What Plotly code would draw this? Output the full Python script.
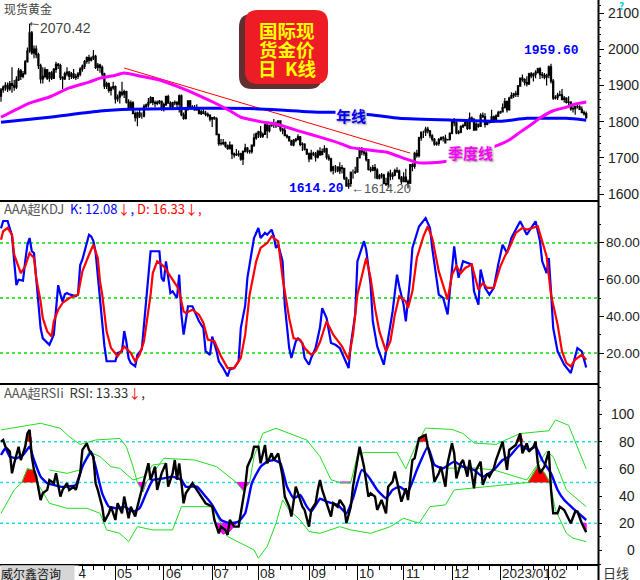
import pandas as pd
import plotly.graph_objects as go

# ---------------- price data (daily OHLC) ----------------
opens = [1870,1888,1895,1900,1890,1905,1900,1895,1915,1940,1925,1932,1965,1995,2045,1990,2000,1985,1955,1918,1925,1943,1920,1935,1920,1944,1958,1955,1922,1918,1932,
         1937,1925,1932,1922,1925,1931,1945,1953,1966,1977,1970,1975,1980,1950,1956,1950,1932,1898,1905,1886,1893,
         1897,1863,1868,1881,1876,1883,1854,1838,1852,1822,1811,1824,1815,1815,1842,1846,1853,1866,1853,1850,1853,1856,
         1837,1847,1869,1851,1841,1852,1853,1848,1871,1819,1809,1834,1857,1840,1839,1832,1838,1822,1827,1823,1820,1817,
         1807,1811,1808,1764,1739,1740,1742,1733,1725,1735,1711,1708,1709,1711,1696,1718,1727,1719,1717,1735,1755,
         1766,1772,1760,1765,1791,1775,1789,1794,1792,1789,1802,1779,1775,1761,1758,1747,1736,1748,1751,1758,1737,1738,1723,
         1711,1697,1712,1710,1702,1718,1709,1717,1725,1702,1697,1665,1675,1675,1664,1673,1671,1644,1622,1629,1660,1660,
         1661,1700,1725,1716,1713,1695,1668,1666,1673,1666,1644,1650,1652,1629,1627,1657,1649,1652,1665,1663,1644,
         1634,1647,1635,1630,1681,1676,1712,1706,1755,1771,1771,1779,1774,1761,1751,1738,1740,1750,1755,1754,1741,1750,
         1768,1803,1797,1769,1771,1786,1789,1797,1781,1810,1807,1777,1793,1787,1817,1813,1792,1797,1798,1813,1804,1815,
         1824,1827,1839,1855,1833,1865,1872,1877,1875,1898,1920,1916,1908,1904,1932,1926,1931,1936,1946,1930,1928,1923,
         1928,1951,1912,1865,1867,1873,1874,1861,1865,1853,1854,1835,1836,1842,1841,1834,1825,1822]
highs = [1893,1900,1909,1908,1912,1950,1915,1925,1948,1945,1940,1970,2005,2070.42,2050,2010,2010,1990,1960,1950,1950,1945,1938,1940,1948,1965,1962,1960,1925,1938,1950,
         1940,1937,1945,1932,1937,1950,1958,1970,1980,1985,1980,1998,1985,1962,1960,1955,1935,1910,1908,1898,1910,
         1900,1875,1885,1910,1888,1885,1862,1858,1856,1828,1828,1835,1825,1848,1850,1865,1870,1868,1858,1858,1860,1858,
         1853,1872,1874,1856,1855,1858,1856,1875,1875,1825,1840,1858,1860,1845,1846,1848,1840,1832,1840,1830,1825,1820,
         1813,1815,1812,1767,1752,1752,1745,1737,1745,1737,1715,1724,1720,1714,1720,1739,1730,1722,1737,1767,1770,
         1775,1788,1770,1795,1792,1790,1798,1807,1800,1803,1804,1782,1782,1765,1760,1750,1752,1755,1765,1760,1743,1740,1726,
         1715,1722,1717,1716,1722,1729,1726,1735,1728,1710,1700,1678,1680,1677,1688,1680,1672,1648,1641,1662,1668,1675,
         1702,1729,1730,1722,1718,1697,1675,1680,1683,1671,1655,1658,1656,1645,1663,1667,1660,1670,1674,1668,1650,
         1660,1670,1640,1682,1685,1717,1722,1758,1773,1775,1786,1786,1777,1765,1755,1745,1755,1759,1760,1764,1752,1770,
         1805,1810,1800,1776,1790,1794,1806,1800,1825,1814,1809,1798,1795,1823,1825,1823,1803,1800,1833,1817,1820,1830,
         1830,1850,1865,1858,1869,1881,1880,1885,1901,1922,1930,1920,1925,1935,1937,1935,1942,1949,1950,1937,1934,1932,
         1955,1959.6,1918,1873,1880,1885,1890,1871,1867,1870,1856,1845,1843,1847,1845,1842,1831,1828]
lows = [1855,1880,1885,1882,1885,1880,1885,1890,1912,1915,1920,1930,1965,1990,1985,1975,1975,1945,1905,1905,1920,1915,1910,1915,1918,1935,1945,1915,1890,1915,1925,
        1915,1918,1918,1915,1918,1925,1938,1945,1960,1960,1966,1970,1945,1940,1935,1925,1890,1890,1880,1872,1888,
        1850,1855,1850,1870,1865,1850,1832,1835,1820,1800,1787,1810,1808,1812,1835,1840,1850,1845,1840,1845,1848,1830,
        1828,1843,1850,1835,1838,1845,1840,1825,1815,1805,1806,1830,1835,1833,1830,1830,1820,1818,1820,1815,1812,1800,
        1785,1805,1763,1733,1734,1735,1728,1722,1723,1697,1700,1705,1703,1692,1680,1715,1712,1711,1712,1730,1750,
        1755,1755,1755,1763,1754,1770,1786,1782,1782,1785,1772,1765,1760,1753,1745,1733,1732,1743,1748,1732,1719,1720,1708,
        1688,1695,1705,1690,1698,1705,1707,1714,1695,1692,1660,1654,1659,1660,1655,1657,1639,1621,1614.2,1620,1642,1655,
        1659,1698,1707,1706,1690,1665,1660,1663,1642,1641,1640,1643,1627,1622,1617,1638,1640,1649,1658,1640,1627,
        1633,1632,1616,1628,1663,1670,1700,1701,1747,1755,1760,1767,1754,1745,1733,1733,1733,1748,1745,1740,1738,1745,
        1765,1787,1765,1765,1768,1782,1787,1777,1778,1799,1774,1775,1783,1786,1810,1784,1790,1795,1797,1796,1803,1813,
        1822,1825,1836,1825,1830,1865,1865,1868,1868,1896,1910,1900,1897,1901,1920,1911,1920,1933,1918,1920,1917,1900,
        1920,1905,1860,1861,1860,1870,1858,1853,1850,1845,1830,1825,1819,1836,1832,1825,1817,1808]
closes = [1888,1895,1900,1890,1905,1900,1895,1915,1940,1925,1932,1965,1995,2045,1990,2000,1985,1955,1918,1925,1943,1920,1935,1920,1944,1958,1955,1922,1918,1932,1937,
          1925,1932,1922,1925,1931,1945,1953,1966,1977,1970,1975,1980,1950,1956,1950,1932,1898,1905,1886,1893,1897,
          1863,1868,1881,1876,1883,1854,1838,1852,1822,1811,1824,1815,1815,1842,1846,1853,1866,1853,1850,1853,1856,1837,
          1847,1869,1851,1841,1852,1853,1848,1871,1819,1809,1834,1857,1840,1839,1832,1838,1822,1827,1823,1820,1817,1807,
          1811,1808,1764,1739,1740,1742,1733,1725,1735,1711,1708,1709,1711,1696,1718,1727,1719,1717,1735,1755,1766,
          1772,1760,1765,1791,1775,1789,1794,1792,1789,1802,1779,1775,1761,1758,1747,1736,1748,1751,1758,1737,1738,1723,1711,
          1697,1712,1710,1702,1718,1709,1717,1725,1702,1697,1665,1675,1675,1664,1673,1671,1644,1622,1629,1660,1660,1661,
          1700,1725,1716,1713,1695,1668,1666,1673,1666,1644,1650,1652,1629,1627,1657,1649,1652,1665,1663,1644,1634,
          1647,1635,1630,1681,1676,1712,1706,1755,1771,1771,1779,1774,1761,1751,1738,1740,1750,1755,1754,1741,1750,1768,
          1803,1797,1769,1771,1786,1789,1797,1781,1810,1807,1777,1793,1787,1817,1813,1792,1797,1798,1813,1804,1815,1824,
          1827,1839,1855,1833,1865,1872,1877,1875,1898,1920,1916,1908,1904,1932,1926,1931,1936,1946,1930,1928,1923,1928,
          1951,1912,1865,1867,1873,1874,1861,1865,1853,1854,1835,1836,1842,1841,1834,1825,1822,1811]

# moving averages (bar index, value)
ma_q_idx = [0,13,22,31,40,45,52,56,63,72,81,90,97,104,109,118,127,136,145,154,159,168,175,185,190,202,226,231,236,242,245,251,257,260,266]
ma_q_val = [1812,1851,1868,1893,1909,1920,1928,1934,1926,1915,1895,1872,1852,1830,1812,1800,1790,1773,1757,1740,1728,1721,1716,1695,1686,1690,1735,1749,1771,1796,1810,1830,1840,1847,1854]
ma_y_idx = [0,22,45,59,90,113,127,145,154,169,181,205,227,239,257,266]
ma_y_val = [1798,1812,1829,1834,1837,1836,1832,1826,1826,1818,1809,1804,1801,1809,1809,1804]
trend_idx = [56,186]
trend_val = [1948,1713]

# KDJ
k_idx = [0,1,3,5,6,7,8,10,11,12,13,14,15,16,17,18,19,21,22,24,25,26,27,28,29,30,31,34,35,36,37,39,40,41,42,43,44,45,46,47,48,50,52,53,55,56,57,58,59,61,62,64,65,67,68,71,72,73,74,75,76,77,78,80,81,82,83,84,85,87,88,90,92,93,95,96,98,99,101,103,104,106,108,109,111,112,114,115,117,118,120,121,123,124,125,126,128,129,131,132,134,135,137,138,140,141,143,144,145,146,148,150,152,154,156,158,159,161,162,165,166,168,169,171,174,175,178,180,181,183,184,186,187,190,193,195,196,199,201,203,204,206,207,208,210,212,214,215,217,218,220,222,224,226,228,230,232,236,239,241,243,245,246,248,249,250,251,253,256,259,261,262,264,266]
k_val = [88,92,92,84,70,57,60,59.5,70,79,82.7,75.5,74.5,61,46,33.6,28,25.5,24.5,30,46,57,52,48,52,52.7,52,51,52,68,71,81,84.5,83.6,81,75,62,50,35,24,15.5,15.5,15.5,20,21,32,26,17,14.5,12.7,19,22,35.5,66,75.5,75.5,75.5,61,59,70,61,52.7,53.6,50,62.7,41,30,39,45.5,45.5,42.7,37.3,33.6,21,19,29,21,15.5,11.8,7.3,11,11.8,15.5,33.6,46,61,75.5,82.7,88.2,82.7,85.5,84.5,87.3,83.6,77.3,79,70,46,22.7,17.3,26.4,28,25.5,17.3,13.6,17.3,22.7,28,34,44.5,39,25.5,24.5,22.7,17.3,11.8,24.5,41,70,81,76.4,57.3,37.3,23.6,13.6,20.9,42.7,62.7,56.4,46.4,37.3,61,77.3,89,93.6,88.2,77.3,51.8,50,41,53.6,78.2,68.2,61,70,69,68.2,53.6,46.4,65.5,55.5,51.8,55.5,68.2,79,74.5,82.7,91.8,84.5,88.2,91.8,80.9,70,63.6,71.8,53.6,33.6,20.9,13.6,9.1,17.3,22.7,20.9,12.08]
d_idx = [0,1,3,5,6,8,9,11,13,15,16,18,19,21,23,24,26,28,31,35,37,40,42,44,45,46,47,48,50,53,55,56,59,61,63,65,68,69,71,74,75,78,80,81,83,84,87,90,92,94,97,100,103,106,109,111,113,116,118,121,123,126,128,131,133,136,138,141,143,145,148,151,155,158,160,162,165,166,168,170,172,175,177,179,181,184,185,187,189,192,194,196,199,201,203,205,207,209,211,214,217,219,221,224,227,229,231,234,237,239,242,244,246,248,250,253,255,257,259,261,264,266]
d_val = [81.8,86.4,88.2,84.5,73.6,67.3,63.6,67.3,74.5,71.8,61,48.2,39,31.8,29,37.3,43.6,47.3,50,51.8,64.5,73.6,79,71.8,59,52,40,31.8,22.7,18.2,21.8,23.6,20,15.5,19,26.4,51.8,63.6,70,67.3,65.5,60,56.4,53.6,42.7,41.8,43.6,40.9,36.4,27.3,26.4,18.2,11.8,11.8,17.3,30,51.8,70,77.3,80,83.6,80.9,61,39,28,27.3,22.7,19,20.9,26,37.3,30,23.6,16.4,30,51.8,68.2,71.8,61,44.5,31.8,20.9,26.4,40.9,50.9,48.2,44.5,53.6,71.8,83.6,89.1,82.7,64.5,57.3,49.1,62.7,67.3,63.6,66.4,68.2,54.5,58.2,55.5,55.5,67.3,72.7,77.3,85.5,88.2,87.3,88.2,89.1,80.9,72.7,51.8,35.5,20.9,14.5,12.7,16.4,19,16.33]

# RSI
rsi_idx = [0,1,2,4,5,6,8,9,11,12,13,14,15,16,18,19,21,22,24,25,27,28,30,31,33,34,36,37,39,40,42,43,44,46,47,49,50,52,53,55,56,58,59,61,62,64,65,67,68,70,71,73,75,76,78,79,80,81,82,83,84,87,89,91,93,96,97,99,100,102,103,104,106,108,109,111,112,114,115,117,118,120,121,123,124,126,128,129,131,132,134,135,137,138,140,141,143,144,145,146,148,150,151,153,154,156,157,159,160,162,163,164,165,167,168,170,171,173,175,176,178,179,181,182,184,185,187,188,190,193,194,196,197,199,200,202,203,205,206,207,209,210,212,213,215,216,218,219,221,222,224,225,228,230,231,233,234,236,237,239,240,242,243,244,245,247,249,250,251,253,254,256,259,261,262,264,266]
rsi_val = [80,81.2,76.3,72.7,56.7,64.1,76.3,66.5,76.3,86.1,88.6,69,59.2,54.3,37.1,42,44.5,51.8,49.4,56.7,39.6,44.5,49.4,44.5,46.9,44.5,56.7,73.9,78.8,73.9,69,49.4,44.5,32.2,21.2,27.3,32.2,22.4,34.7,27.3,39.6,23.7,32.2,24.9,32.2,44.5,51.8,64.1,51.8,61.6,44.5,56.7,64.1,46.9,56.7,66.5,52,64,50,34.7,42,49.4,44.5,39.6,34.7,32.2,22.4,12.6,17.5,15.1,11.4,22.4,17.5,17.5,27.3,46.9,61.6,69,76.3,76.3,64.1,77.6,64.1,71.4,66.5,71.4,54.3,39.6,32.2,24.9,46.9,42,32.2,29.8,17.5,29.8,34.7,44.5,51.8,44.5,34.7,24.9,34.7,32.2,37.1,32.2,20,32.2,46.9,69,76.3,69,61.6,39.6,42,39.6,29.8,37.1,27.3,46.9,50.6,58,44.5,35.9,45.7,37.1,66.5,67.8,82.4,84.9,76.3,64.1,50.6,56.7,61.6,46.9,64.1,78.8,71.4,53,64.1,66.5,54.3,66.5,45.7,59.2,65.3,48.2,56.7,54.3,60.4,66.5,80,59.2,73.9,76.3,77.6,86.1,71.4,78.8,72.7,76.3,80,64.1,56.7,61.6,73,45,27.3,27.3,32.2,29.8,20,28.6,28.6,20,13.33]
rsi_ma_idx = [0,2,4,7,10,13,15,18,21,24,27,30,34,37,41,43,46,49,53,56,60,63,66,69,74,78,82,84,89,93,96,100,104,108,111,114,118,121,124,127,130,133,136,139,141,145,148,153,157,160,164,167,171,175,178,181,185,189,194,197,201,206,210,215,219,224,228,231,236,240,243,246,250,253,256,260,266]
rsi_ma_val = [70.2,75.1,69,67.8,70.2,76.3,66.5,54.3,49.4,48.2,46.9,46.9,48.2,61.6,72.7,61.6,42,32.2,31,32.2,28.6,31,42,51.8,53,54.3,51.8,46.9,46.9,39.6,33.5,22.4,20,21.2,27.3,49.4,61.6,65.3,66.5,64.1,46.9,38.4,40.8,32.2,28.6,38,35.9,33.5,27.3,38.4,59.2,54.3,44.5,38.4,44.5,46.9,43.3,59.2,76.3,62.9,60.4,65.3,61.6,59.2,54.3,59.2,66.5,69,77.6,73.9,76.3,66.5,56.7,44.5,37.1,31,22.4]
band_up_idx = [0,9,18,27,31,36,43,54,57,60,62,64.5,66,74,88,98,106,107,110,113,115,119,125,131,139,145,150,154,159,162,165,180,184,188,193,205,210,215,225,229,236,249,252,258,266]
band_up_val = [88.6,91,93.5,89.8,83.7,78,81.2,82.4,76.3,61.6,50,43,50,67.8,66.5,61.6,51.8,50,44,50,69,86.1,89.8,86.1,81.2,69,52,50,50,70,72,72,60,75,90,89,86,79,78,81,86,88,96,92,60]
band_dn_idx = [0,6,9.5,12,15,16.4,22,30,39,45,48,54,58,62,69,78,82,96,103,109,115,117,121,125,128,131,136,140,145,154,159,168,177,183,190,195,202,206,221,236,239.5,244,247,249.5,252,257,260,266]
band_dn_val = [27.3,44.5,50,60,59,50,34.7,31,31,27.3,15.1,12.6,6.5,17.5,15.1,15.1,32.2,32.2,10.2,5.3,0.4,-5.7,2.9,20,37.1,29.8,22.4,13.9,12.6,17.5,15.1,12.6,17.5,23.7,20,32.2,33.5,44.5,46.9,49.4,50,62,57,50,30,12.6,9,6.5]
# third (middle) green line, only where it could be read
band_mid_idx = [22, 30, 36, 40, 45, 50, 54, 60, 65, 69, 75, None, 203, 213, 224, 239, 248, 251, 257, 266]
band_mid_val = [59.2, 56.7, 59.2, 72.7, 69, 61.6, 60.4, 51.8, 54.3, 62.9, 64.1, None, 60.4, 61, 59.2, 51.8, 72.7, 69, 44.5, 32.2]
# signal fills (color, bar index list, RSI value list)
sig_polys = [
    ("#FF0000", [9.5, 12, 15, 16.4], [50, 60, 59, 50]),
    ("#FF0000", [11.5, 13, 14], [80, 87, 80]),
    ("#FF00FF", [62, 66, 64.5], [50, 50, 43]),
    ("#FF00FF", [98, 107, 104, 101, 99], [20, 20, 14, 12, 15]),
    ("#FF00FF", [107, 113, 110], [50, 50, 44]),
    ("#FF0000", [189.5, 192, 193.6], [80, 85.5, 80]),
    ("#FF0000", [234.5, 236, 237.3], [80, 86, 80]),
    ("#FF0000", [239.5, 244, 247, 249.5], [50, 62, 57, 50]),
    ("#FF00FF", [264, 266, 266], [20, 20, 14]),
]
sig_line_idx = [154, 159]
sig_line_val = [50, 50]

kdj_levels = [80, 50, 20]
rsi_levels = [80, 50, 20]
price_ticks = [1600, 1700, 1800, 1900, 2000, 2100]
kdj_ticks = [20, 40, 60, 80]
rsi_ticks = [0, 20, 40, 60, 80, 100]

# ---------------- figure ----------------
dates = pd.bdate_range("2022-02-17", periods=len(closes))
idx = list(range(len(closes)))

W, H = 598.0, 565.0
def px(x):
    return x / W
def py(y):
    return (H - y) / H

fig = go.Figure()
fig.add_trace(go.Candlestick(
    x=idx, open=opens, high=highs, low=lows, close=closes, xaxis="x", yaxis="y",
    increasing=dict(line=dict(color="black", width=1.2), fillcolor="black"),
    decreasing=dict(line=dict(color="black", width=1.2), fillcolor="black"),
    whiskerwidth=0, showlegend=False, hoverinfo="skip"))
fig.add_trace(go.Scatter(x=trend_idx, y=trend_val, mode="lines", xaxis="x", yaxis="y",
                         line=dict(color="#FF0000", width=1), showlegend=False))
fig.add_trace(go.Scatter(x=ma_y_idx, y=ma_y_val, mode="lines", xaxis="x", yaxis="y",
                         line=dict(color="#0000FF", width=3, shape="spline", smoothing=0.5), showlegend=False))
fig.add_trace(go.Scatter(x=ma_q_idx, y=ma_q_val, mode="lines", xaxis="x", yaxis="y",
                         line=dict(color="#FF00FF", width=3, shape="spline", smoothing=0.5), showlegend=False))

fig.add_trace(go.Scatter(x=k_idx, y=k_val, mode="lines", xaxis="x2", yaxis="y2",
                         line=dict(color="#0000FF", width=2.2), showlegend=False))
fig.add_trace(go.Scatter(x=d_idx, y=d_val, mode="lines", xaxis="x2", yaxis="y2",
                         line=dict(color="#FF0000", width=2.2), showlegend=False))

for col, xs, ys in sig_polys:
    fig.add_trace(go.Scatter(x=xs, y=ys, mode="lines", fill="toself", fillcolor=col,
                             line=dict(color=col, width=1), xaxis="x3", yaxis="y3", showlegend=False))
fig.add_trace(go.Scatter(x=sig_line_idx, y=sig_line_val, mode="lines", xaxis="x3", yaxis="y3",
                         line=dict(color="#FF00FF", width=2), showlegend=False))
for bi, bv in [(band_up_idx, band_up_val), (band_dn_idx, band_dn_val), (band_mid_idx, band_mid_val)]:
    fig.add_trace(go.Scatter(x=bi, y=bv, mode="lines", xaxis="x3", yaxis="y3", connectgaps=False,
                             line=dict(color="#22DD22", width=1), showlegend=False))
fig.add_trace(go.Scatter(x=rsi_ma_idx, y=rsi_ma_val, mode="lines", xaxis="x3", yaxis="y3",
                         line=dict(color="#0000FF", width=2.4, shape="spline", smoothing=0.4), showlegend=False))
fig.add_trace(go.Scatter(x=rsi_idx, y=rsi_val, mode="lines", xaxis="x3", yaxis="y3",
                         line=dict(color="#000000", width=2.4), showlegend=False))

xr = [-0.4545, 271.36]
axfont = dict(family="Liberation Sans, Arial", size=14, color="#222")
common_x = dict(range=xr, domain=[0, 1], showgrid=False, zeroline=False, fixedrange=True)

# month ticks
month_idx, month_lab = [], []
for i, d in enumerate(dates):
    if i > 0 and d.month != dates[i - 1].month:
        month_idx.append(i)
        month_lab.append(f"{d.year}/{d.month:02d}" if d.month == 1 else f"{d.month:02d}")
week_idx = [i for i, d in enumerate(dates) if d.weekday() == 0]

fig.update_layout(
    width=640, height=580, margin=dict(l=0, r=42, t=0, b=15),
    paper_bgcolor="white", plot_bgcolor="white", showlegend=False,
    xaxis=dict(**common_x, anchor="y", visible=False, rangeslider=dict(visible=False)),
    xaxis2=dict(**common_x, anchor="y2", visible=False),
    xaxis3=dict(**common_x, anchor="y3", showticklabels=False, ticks="outside", ticklen=15,
                tickcolor="black", tickwidth=1, tickmode="array", tickvals=month_idx,
                minor=dict(ticks="outside", ticklen=4, tickcolor="black", tickmode="array", tickvals=week_idx),
                showline=False),
    yaxis=dict(domain=[py(201), 1], range=[1580.7, 2135.9], side="right", anchor="x",
               tickmode="array", tickvals=price_ticks, ticks="outside", ticklen=5, tickcolor="black",
               showticklabels=False, showgrid=False, zeroline=False, showline=False,
               minor=dict(ticks="outside", ticklen=2, tickcolor="black", dtick=20, tick0=0)),
    yaxis2=dict(domain=[py(384), py(201)], range=[3.1, 102.9], side="right", anchor="x2",
                tickmode="array", tickvals=kdj_ticks, showticklabels=False,
                ticks="outside", ticklen=5, tickcolor="black",
                showgrid=False, zeroline=False, showline=False,
                minor=dict(ticks="outside", ticklen=2, tickcolor="black", dtick=10, tick0=0)),
    yaxis3=dict(domain=[0, py(384)], range=[-10.7, 122.4], side="right", anchor="x3",
                tickmode="array", tickvals=rsi_ticks, showticklabels=False,
                ticks="outside", ticklen=3, tickcolor="black",
                showgrid=False, zeroline=False, showline=False,
                minor=dict(ticks="outside", ticklen=2, tickcolor="black", dtick=10, tick0=0)),
)

shapes = []
for lv in kdj_levels:
    shapes.append(dict(type="line", xref="paper", yref="y2", x0=0, x1=1, y0=lv, y1=lv,
                       line=dict(color="#00E000", width=1.5, dash="dot"), layer="below"))
for lv in rsi_levels:
    shapes.append(dict(type="line", xref="paper", yref="y3", x0=0, x1=1, y0=lv, y1=lv,
                       line=dict(color="#22DDDD", width=1.5, dash="dot"), layer="below"))
# panel borders
for yy in (201, 384, 565):
    shapes.append(dict(type="line", xref="paper", yref="paper", x0=0, x1=1, y0=py(yy), y1=py(yy),
                       line=dict(color="black", width=2)))
shapes.append(dict(type="line", xref="paper", yref="paper", x0=px(598.5), x1=px(598.5), y0=py(580), y1=1,
                   line=dict(color="black", width=2)))
# title badge (rounded box with shadow)
def rrect(x0, y0, x1, y1, r):
    X0, X1 = px(x0), px(x1)
    Y0, Y1 = py(y0), py(y1)
    rx, ry = r / W, r / H
    return (f"M {X0+rx},{Y0} L {X1-rx},{Y0} Q {X1},{Y0} {X1},{Y0-ry} L {X1},{Y1+ry} "
            f"Q {X1},{Y1} {X1-rx},{Y1} L {X0+rx},{Y1} Q {X0},{Y1} {X0},{Y1+ry} "
            f"L {X0},{Y0-ry} Q {X0},{Y0} {X0+rx},{Y0} Z")
shapes.append(dict(type="path", xref="paper", yref="paper", path=rrect(239, 14, 322, 89, 13),
                   fillcolor="rgba(70,10,10,0.85)", line=dict(width=0)))
shapes.append(dict(type="path", xref="paper", yref="paper", path=rrect(245, 10, 328, 84, 13),
                   fillcolor="#EE1D25", line=dict(width=0)))
fig.update_layout(shapes=shapes)

ann = []
cjk = "Noto Sans CJK SC, Liberation Sans"
def txt(x, y, t, size=13, color="#333", xa="left", ya="middle", **kw):
    ann.append(dict(xref="paper", yref="paper", x=px(x), y=py(y), text=t, showarrow=False,
                    xanchor=xa, yanchor=ya, font=dict(family=cjk, size=size, color=color), **kw))

txt(2, 8, "现货黄金", size=12, color="#444")
for j, line in enumerate(["国际现", "货金价", "日  K线"]):
    txt(287, 30 + j * 19, line, size=18.5, color="#FFFF00", xa="center")
    ann[-1]["font"]["weight"] = "bold"
txt(2, 209, "<span style='color:#555'>AAA超KDJ</span>  <span style='color:#0000FF'>K: 12.08</span>"
            "<span style='color:#FF0000'>↓</span><span style='color:#0000FF'>,</span> "
            "<span style='color:#FF0000'>D: 16.33↓,</span>", size=13)
txt(2, 392, "<span style='color:#555'>AAA超RSIi</span>  <span style='color:#333'>RSI: 13.33</span>"
            "<span style='color:#FF0000'>↓</span>,", size=13)

# data-anchored labels
ann.append(dict(xref="x", yref="y", x=13, y=2070.42, text="2070.42", showarrow=True,
                ax=36, ay=4, arrowhead=1, arrowsize=0.8, arrowwidth=1, arrowcolor="#555",
                font=dict(family="Liberation Sans", size=14, color="#444")))
ann.append(dict(xref="x", yref="y", x=158, y=1614.2, text="1614.20", showarrow=False,
                xanchor="right", yanchor="middle", xshift=-3,
                font=dict(family="Liberation Mono", size=13, color="#0000FF", weight="bold")))
ann.append(dict(xref="x", yref="y", x=158, y=1614.2, text="←1614.20", showarrow=False,
                xanchor="left", yanchor="middle", xshift=0,
                font=dict(family="Liberation Sans", size=13, color="#555")))
ann.append(dict(xref="x", yref="y", x=250, y=1959.6, text="1959.60", showarrow=False,
                xanchor="center", yanchor="bottom", yshift=4,
                font=dict(family="Liberation Mono", size=13, color="#0000FF", weight="bold")))
ann.append(dict(xref="x", yref="y", x=159, y=1818, text="年线", showarrow=False,
                xanchor="center", yanchor="middle", bgcolor="white", borderpad=0,
                font=dict(family=cjk, size=15, color="#0000FF", weight="bold", shadow="1px 1px 2px #888")))
ann.append(dict(xref="x", yref="y", x=213.5, y=1715, text="季度线", showarrow=False,
                xanchor="center", yanchor="middle", bgcolor="white", borderpad=1,
                font=dict(family=cjk, size=15, color="#FF00FF", weight="bold", shadow="1px 1px 2px #888")))

# right axis labels
for v in price_ticks:
    ann.append(dict(xref="paper", yref="y", x=px(606), y=v, text=str(v), showarrow=False,
                    xanchor="left", yanchor="middle", font=axfont))
for v in kdj_ticks:
    ann.append(dict(xref="paper", yref="y2", x=px(604), y=v, text=f"{v:.2f}", showarrow=False,
                    xanchor="left", yanchor="middle", font=dict(axfont, size=13.5)))
for v in rsi_ticks:
    ann.append(dict(xref="paper", yref="y3", x=px(637), y=v, text=str(v), showarrow=False,
                    xanchor="right", yanchor="middle", font=axfont))
# month labels
for mi, ml in zip(month_idx, month_lab):
    ann.append(dict(xref="x3", yref="paper", x=mi, y=py(573), text=ml, showarrow=False,
                    xanchor="left", yanchor="middle", xshift=0,
                    font=dict(family="Liberation Sans", size=13.5, color="#222")))
txt(0, 572.5, " ", size=12, color="#111", bgcolor="white", width=77, height=14, borderpad=0)
txt(0, 572.5, "威尔鑫咨询", size=12, color="#111", bgcolor="#D6D6D6", width=73, height=14, align="left", borderpad=0)
txt(601, 572, "日线", size=13, color="#333")
txt(617, 5, "?", size=10, color="#00CCCC")
ann[-1]["font"]["weight"] = "bold"

fig.update_layout(annotations=ann)
fig.write_html("out.html", config={"displayModeBar": False},
               post_script="document.body.style.margin='0px';document.body.style.overflow='hidden';")
